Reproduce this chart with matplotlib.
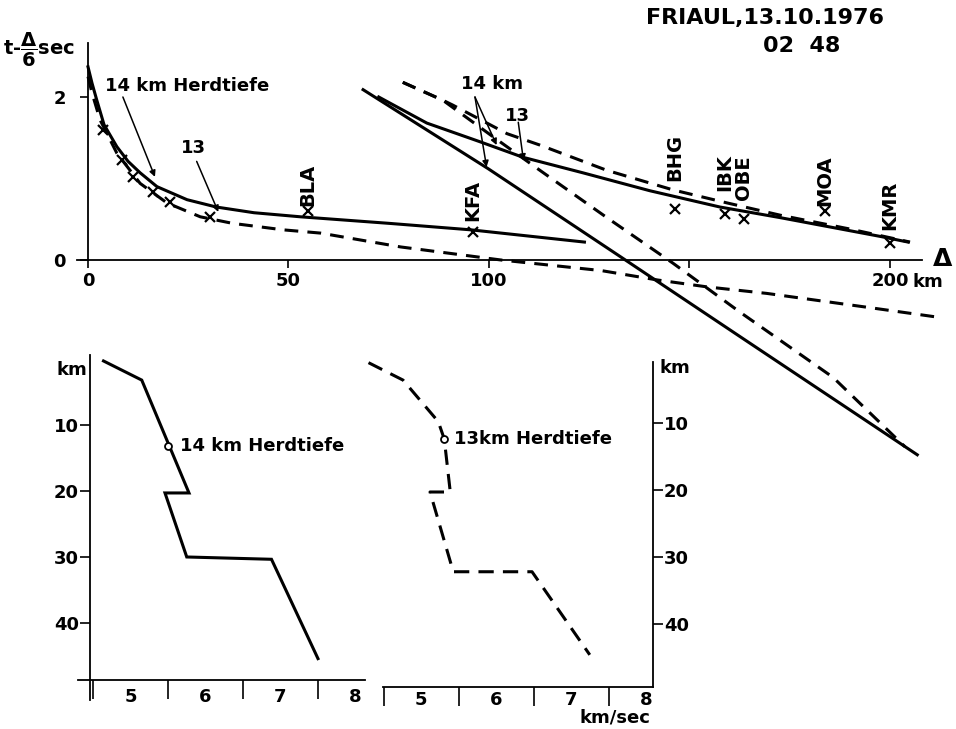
import matplotlib
matplotlib.use('Agg')
import matplotlib.pyplot as plt
from matplotlib import font_manager

plt.rcParams['font.family'] = ['DejaVu Sans']
plt.rcParams['font.weight'] = 'bold'
plt.rcParams['mathtext.fontset'] = 'dejavusans'

# narrow face for the heading if there is one
try:
    font_manager.findfont(font_manager.FontProperties(family='Liberation Sans Narrow'),
                          fallback_to_default=False)
    TITLE_FONT, TITLE_SIZE = 'Liberation Sans Narrow', 20
except ValueError:
    TITLE_FONT, TITLE_SIZE = 'DejaVu Sans', 16

# ---- travel times: distance (km) and reduced time t - delta/6 (s) ----
direct14_km = [0, 1, 2.2, 4, 7.2, 10, 13, 17.2, 24.7, 32, 41.4, 53, 75, 95.5, 123.8]
direct14_t = [2.37, 2.17, 1.96, 1.66, 1.39, 1.21, 1.07, 0.90, 0.74, 0.65, 0.58, 0.53, 0.45, 0.37, 0.22]

direct13_km = [0, 1, 3, 7.2, 13, 19.7, 28, 36, 48.7, 58, 78, 103, 128, 142, 154.4, 169.3, 194.3, 211.7]
direct13_t = [2.25, 2.05, 1.72, 1.31, 0.94, 0.70, 0.53, 0.45, 0.37, 0.33, 0.16, 0.0, -0.13, -0.245,
              -0.33, -0.41, -0.58, -0.70]

pn14_km = [68.6, 99.8, 133.4, 162.6, 206.8]
pn14_t = [2.09, 1.12, 0.02, -0.94, -2.39]

pb14_km = [72.5, 84.5, 97.8, 108.5, 123.4, 140.1, 157.6, 172.6, 197.5, 204.5]
pb14_t = [2.0, 1.68, 1.45, 1.26, 1.07, 0.85, 0.65, 0.52, 0.29, 0.22]

pb13_km = [78.5, 88.5, 91, 104.5, 112.7, 129.4, 145.9, 159.4, 172.6, 190, 205]
pb13_t = [2.18, 1.96, 1.90, 1.55, 1.41, 1.10, 0.86, 0.70, 0.55, 0.38, 0.22]

pn13_km = [78.5, 88.5, 100.5, 112.7, 129.4, 145.9, 162.6, 185.8, 203.7]
pn13_t = [2.18, 1.96, 1.53, 1.10, 0.52, -0.04, -0.64, -1.44, -2.29]

near_km = [3.8, 8.4, 11.3, 16.3, 20.5, 30.5]
near_t = [1.60, 1.23, 1.02, 0.83, 0.71, 0.53]

stations = ['BLA', 'KFA', 'BHG', 'IBK', 'OBE', 'MOA', 'KMR']
station_km = [54.8, 96, 146.3, 158.8, 163.5, 183.8, 200]
station_t = [0.60, 0.34, 0.63, 0.57, 0.50, 0.60, 0.21]
label_gap = [4, 8, 20, 16, 14, 4, 9]   # points between cross and name

# ---- velocity-depth models: velocity (km/s), depth (km) ----
model14_v = [4.64, 5.15, 5.78, 5.46, 5.75, 6.88, 7.50]
model14_z = [0.3, 3.2, 20.3, 20.3, 30.0, 30.35, 45.4]
focus14 = (5.50, 13.2)

model13_v = [4.30, 4.76, 5.23, 5.31, 5.39, 5.12, 5.43, 6.48, 7.25]
model13_z = [1.0, 3.6, 9.8, 12.4, 20.3, 20.3, 32.2, 32.2, 44.6]
focus13 = (5.31, 12.4)

depth_ticks = [10, 20, 30, 40]
vel_ticks = [4.5, 5.5, 6.5, 7.5]
vel_labels = [5, 6, 7, 8]

LW = 2.2
DASH = (0, (4.5, 3))

fig = plt.figure(figsize=(9.56, 7.29), dpi=100)

# top panel spans the whole figure so the long branches run down past the axis
ax = fig.add_axes([0, 0, 1, 1])
ax.set_xlim(-88 / 4.01, (956 - 88) / 4.01)
ax.set_ylim((260 - 729) / 81.5, 260 / 81.5)
ax.patch.set_visible(False)
ax.spines['top'].set_visible(False)
ax.spines['right'].set_visible(False)
ax.spines['left'].set_position(('data', 0))
ax.spines['bottom'].set_position(('data', 0))
ax.spines['left'].set_bounds(0, 2.66)
ax.spines['bottom'].set_bounds(-2.7, 208)
ax.spines['left'].set_linewidth(1.3)
ax.spines['bottom'].set_linewidth(1.3)
ax.set_xticks([0, 50, 100, 150, 200])
ax.set_xticklabels(['0', '50', '100', '', '200'])
ax.set_yticks([0, 2])
ax.tick_params(axis='x', direction='out', length=6, width=1.2, pad=3, labelsize=13)
ax.tick_params(axis='y', direction='out', length=6, width=1.2, pad=10, labelsize=13)

ax.plot(direct14_km, direct14_t, color='k', lw=LW)
ax.plot(direct13_km, direct13_t, color='k', lw=LW, ls=DASH)
ax.plot(pn14_km, pn14_t, color='k', lw=LW)
ax.plot(pb14_km, pb14_t, color='k', lw=LW)
ax.plot(pb13_km, pb13_t, color='k', lw=LW, ls=DASH)
ax.plot(pn13_km, pn13_t, color='k', lw=LW, ls=DASH)

ax.plot(near_km, near_t, 'x', color='k', ms=7, mew=1.6)
ax.plot(station_km, station_t, 'x', color='k', ms=7, mew=1.6)
for name, x, y, gap in zip(stations, station_km, station_t, label_gap):
    ax.annotate(name, (x, y), xytext=(0, gap), textcoords='offset points',
                rotation=90, ha='center', va='bottom', fontsize=14)

ax.text(-21.2, 2.58, r'$\mathbf{t}$-$\dfrac{\mathbf{\Delta}}{\mathbf{6}}$sec',
        ha='left', va='center', fontsize=14)
ax.text(205.5, -0.27, 'km', ha='left', va='center', fontsize=13)
ax.text(213, 0.01, 'Δ', ha='center', va='center', fontsize=18)

arrow = dict(arrowstyle='-|>', lw=1.1, color='k', mutation_scale=9, shrinkA=0, shrinkB=0)
ax.text(24.7, 2.14, '14 km Herdtiefe', ha='center', va='center', fontsize=13)
ax.annotate('', xy=(16.7, 1.02), xytext=(8.7, 2.0), arrowprops=arrow)
ax.text(26.2, 1.37, '13', ha='center', va='center', fontsize=13)
ax.annotate('', xy=(32.5, 0.59), xytext=(27.1, 1.21), arrowprops=arrow)
ax.text(100.7, 2.16, '14 km', ha='center', va='center', fontsize=13)
ax.annotate('', xy=(99.4, 1.14), xytext=(96.5, 2.0), arrowprops=arrow)
ax.annotate('', xy=(101.9, 1.41), xytext=(96.5, 2.0), arrowprops=arrow)
ax.text(107, 1.77, '13', ha='center', va='center', fontsize=13)
ax.annotate('', xy=(108.6, 1.22), xytext=(107.3, 1.69), arrowprops=arrow)

fig.text(765 / 956, 1 - 18 / 729, 'FRIAUL,13.10.1976', ha='center', va='center',
         family=TITLE_FONT, fontsize=TITLE_SIZE, fontweight='bold')
fig.text(802 / 956, 1 - 46 / 729, '02  48', ha='center', va='center',
         family=TITLE_FONT, fontsize=TITLE_SIZE, fontweight='bold')

# ---- left model (14 km) ----
axl = fig.add_axes([90 / 956, 1 - 680 / 729, 275 / 956, 323 / 729])
axl.patch.set_visible(False)
axl.set_xlim(4.46, 8.127)
axl.set_ylim(48.64, -0.30)
axl.spines['top'].set_visible(False)
axl.spines['right'].set_visible(False)
axl.spines['bottom'].set_bounds(4.30, 8.127)
axl.spines['left'].set_bounds(51.6, -0.6)
for s in ['left', 'bottom']:
    axl.spines[s].set_linewidth(1.3)
axl.plot(model14_v, model14_z, color='k', lw=LW, solid_joinstyle='miter')
axl.plot(*focus14, 'o', ms=5, mfc='white', mec='k', mew=1.3)
axl.text(focus14[0] + 0.16, focus14[1], '14 km Herdtiefe', ha='left', va='center', fontsize=13)
axl.set_yticks(depth_ticks)
axl.set_xticks(vel_ticks)
axl.set_xticklabels([])
axl.set_xticks(vel_labels, minor=True)
axl.set_xticklabels([str(v) for v in vel_labels], minor=True)
axl.tick_params(axis='y', direction='out', length=7, width=1.2, pad=1, labelsize=13)
axl.tick_params(axis='x', which='major', direction='out', length=14, width=1.2)
axl.tick_params(axis='x', which='minor', length=0, pad=6, labelsize=13)
axl.text(4.22, 1.7, 'km', ha='center', va='center', fontsize=13)

# ---- right model (13 km) ----
axr = fig.add_axes([383 / 956, 1 - 687 / 729, 270 / 956, 325 / 729])
axr.patch.set_visible(False)
axr.set_xlim(4.493, 8.093)
axr.set_ylim(49.4, 0.9)
axr.spines['top'].set_visible(False)
axr.spines['left'].set_visible(False)
for s in ['right', 'bottom']:
    axr.spines[s].set_linewidth(1.3)
axr.plot(model13_v, model13_z, color='k', lw=LW, ls=(0, (5, 3)), clip_on=False)
axr.plot(*focus13, 'o', ms=5, mfc='white', mec='k', mew=1.3)
axr.text(focus13[0] + 0.13, focus13[1], '13km Herdtiefe', ha='left', va='center', fontsize=13)
axr.yaxis.tick_right()
axr.set_yticks(depth_ticks)
axr.set_xticks(vel_ticks)
axr.set_xticklabels([])
axr.set_xticks(vel_labels, minor=True)
axr.set_xticklabels([str(v) for v in vel_labels], minor=True)
axr.tick_params(axis='y', direction='out', length=7, width=1.2, pad=1, labelsize=13)
axr.tick_params(axis='x', which='major', direction='out', length=14, width=1.2)
axr.tick_params(axis='x', which='minor', length=0, pad=3, labelsize=13)
axr.text(8.39, 1.8, 'km', ha='center', va='center', fontsize=13)
axr.text(7.59, 54.0, 'km/sec', ha='center', va='center', fontsize=13)

fig.savefig('out.png', dpi=100)
